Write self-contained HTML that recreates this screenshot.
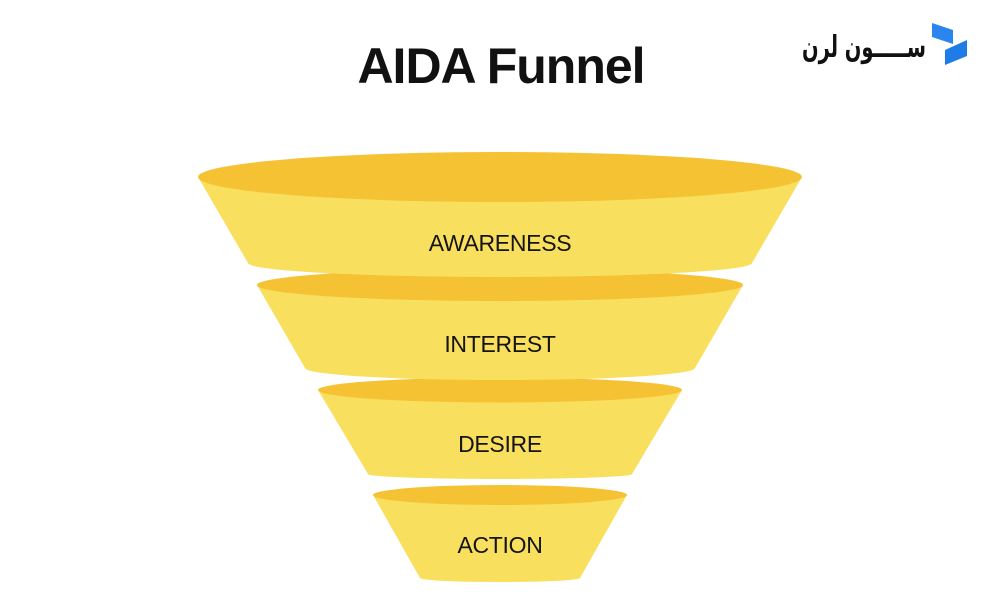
<!DOCTYPE html>
<html>
<head>
<meta charset="utf-8">
<style>
  html, body { margin: 0; padding: 0; background: #ffffff; }
  body { width: 1000px; height: 600px; overflow: hidden; position: relative; }
  svg { position: absolute; left: 0; top: 0; }
</style>
</head>
<body>
<svg width="1000" height="600" viewBox="0 0 1000 600" xmlns="http://www.w3.org/2000/svg">
  <rect width="1000" height="600" fill="#ffffff"/>

  <!-- Title -->
  <text x="501" y="83" text-anchor="middle" font-family="Liberation Sans, Arial, sans-serif" font-weight="bold" font-size="50" letter-spacing="-1" fill="#111111">AIDA Funnel</text>

  <!-- Logo -->
  <text x="802" y="57" text-anchor="start" textLength="124" lengthAdjust="spacingAndGlyphs" font-family="DejaVu Sans, sans-serif" font-weight="bold" font-size="30" fill="#111111">ســـــون لرن</text>
  <polygon points="932,23 953,30 953,44 932,37" fill="#2a86ee"/>
  <polygon points="945,50 967,40 967,56 945,65" fill="#1f7be6"/>

  <!-- Segment 4 (ACTION) -->
  <path d="M373,495 L420,578 A80,4 0 0 0 580,578 L627,495 Z" fill="#F9DF5E"/>
  <ellipse cx="500" cy="495" rx="127" ry="10" fill="#F4C233"/>

  <!-- Segment 3 (DESIRE) -->
  <path d="M318,390 L368,474 A132,5 0 0 0 632,474 L682,390 Z" fill="#F9DF5E"/>
  <ellipse cx="500" cy="390" rx="182" ry="12.5" fill="#F4C233"/>

  <!-- Segment 2 (INTEREST) -->
  <path d="M257,285 L305,368 A195,12 0 0 0 695,368 L743,285 Z" fill="#F9DF5E"/>
  <ellipse cx="500" cy="285" rx="243" ry="16" fill="#F4C233"/>

  <!-- Segment 1 (AWARENESS) -->
  <path d="M198,177 L248,263 A252,14 0 0 0 752,263 L802,177 Z" fill="#F9DF5E"/>
  <ellipse cx="500" cy="177" rx="302" ry="25" fill="#F4C233"/>

  <!-- Labels -->
  <g font-family="Liberation Sans, Arial, sans-serif" font-size="23" fill="#141414" text-anchor="middle" letter-spacing="-0.3">
    <text x="500" y="251">AWARENESS</text>
    <text x="500" y="352">INTEREST</text>
    <text x="500" y="452">DESIRE</text>
    <text x="500" y="553">ACTION</text>
  </g>
</svg>
</body>
</html>
